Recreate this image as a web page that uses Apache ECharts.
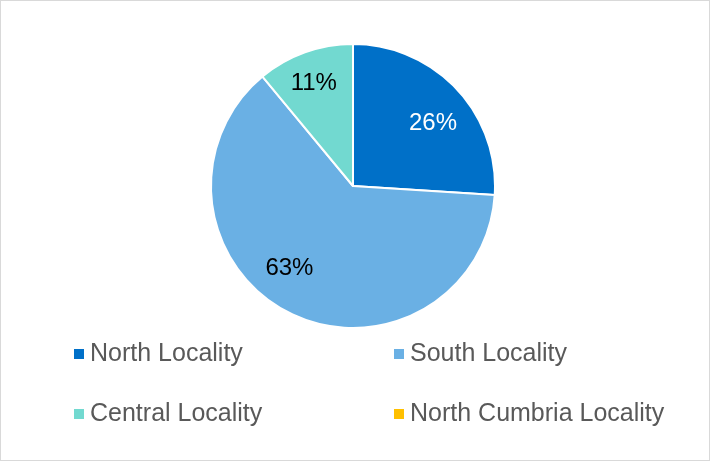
<!DOCTYPE html>
<html>
<head>
<meta charset="utf-8">
<script src="https://cdn.jsdelivr.net/npm/echarts@6/dist/echarts.min.js"></script>
<style>
html,body{margin:0;padding:0;background:#fff;}
#c{width:708px;height:459px;border:1px solid #d9d9d9;}
</style>
</head>
<body>
<div id="c"></div>
<script>
const categories = ['North Locality', 'South Locality', 'Central Locality', 'North Cumbria Locality'];
const values = [26, 63, 11, 0];
const colors = ['#0070C8', '#6AB0E4', '#72D9D0', '#FFC000'];
const labelColors = ['#ffffff', '#000000', '#000000', '#000000'];
// label nudges (Excel "best fit" placement)
const labelNudge = [[2, 11], [-15, -13], [-3, -2], [0, 0]];

const chart = echarts.init(document.getElementById('c'));
const font = '"Liberation Sans", Arial, sans-serif';

const mainData = categories.map((n, i) => ({
  name: n, value: values[i], itemStyle: { color: colors[i] }
}));
const labelData = categories.map((n, i) => ({
  name: n, value: values[i],
  label: { show: values[i] > 0, color: labelColors[i] }
}));

const legendCommon = {
  orient: 'vertical',
  icon: 'rect',
  itemWidth: 12,
  itemHeight: 12,
  itemGap: 30,
  selectedMode: false,
  textStyle: { fontFamily: font, fontSize: 25, color: '#595959', lineHeight: 30 }
};

chart.setOption({
  animation: false,
  backgroundColor: '#fff',
  color: colors,
  legend: [
    Object.assign({ left: 66, top: 333, data: [categories[0], categories[2]] }, legendCommon),
    Object.assign({ left: 386, top: 333, data: [categories[1], categories[3]] }, legendCommon)
  ],
  series: [
    {
      type: 'pie',
      center: [352, 185],
      radius: [0, 142],
      startAngle: 90,
      clockwise: true,
      label: { show: false },
      labelLine: { show: false },
      itemStyle: { borderColor: '#ffffff', borderWidth: 2 },
      emphasis: { disabled: true },
      data: mainData
    },
    {
      type: 'pie',
      center: [352, 185],
      radius: [66, 142],
      startAngle: 90,
      clockwise: true,
      silent: true,
      itemStyle: { color: 'rgba(0,0,0,0)' },
      label: { position: 'inside', formatter: '{d}%', fontFamily: font, fontSize: 24 },
      labelLine: { show: false },
      labelLayout: function (p) {
        const n = labelNudge[p.dataIndex] || [0, 0];
        return { dx: n[0], dy: n[1] };
      },
      emphasis: { disabled: true },
      data: labelData
    }
  ]
});
</script>
</body>
</html>
